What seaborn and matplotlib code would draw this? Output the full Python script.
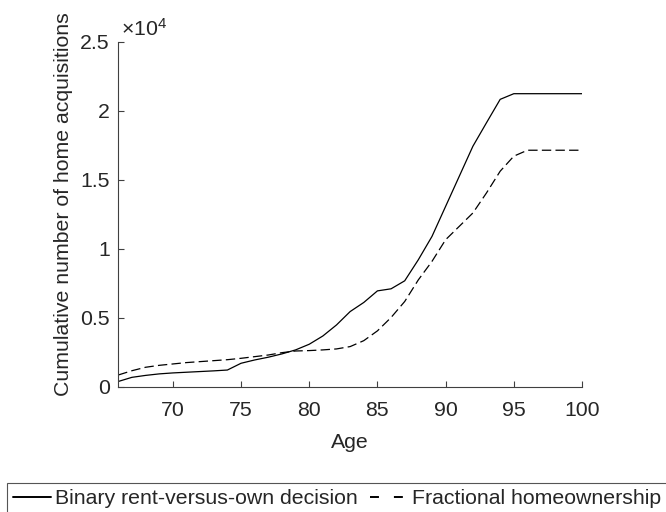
import matplotlib
matplotlib.use("Agg")
import matplotlib.pyplot as plt
from matplotlib.lines import Line2D
from matplotlib.ticker import FuncFormatter
import pandas as pd
import seaborn as sns

# cumulative home acquisitions by age
ages = list(range(66, 101))
binary_owners = [
    380, 680, 820, 930, 1000, 1050, 1100, 1150, 1210, 1700,
    1940, 2140, 2380, 2670, 3080, 3680, 4480, 5450, 6110, 6950,
    7100, 7680, 9210, 10900, 13080, 15260, 17440, 19150, 20840, 21250,
    21250, 21250, 21250, 21250, 21250,
]
fractional_owners = [
    850, 1160, 1410, 1550, 1650, 1750, 1820, 1890, 1960, 2060,
    2180, 2300, 2470, 2590, 2620, 2670, 2740, 2910, 3340, 4050,
    5020, 6180, 7750, 9090, 10660, 11630, 12600, 14060, 15630, 16720,
    17150, 17150, 17150, 17150, 17150,
]
series_labels = ["Binary rent-versus-own decision", "Fractional homeownership"]
x_ticks = [70, 75, 80, 85, 90, 95, 100]
y_ticks = [0, 5000, 10000, 15000, 20000, 25000]

sns.set_style("ticks")
plt.rcParams["font.family"] = ["Liberation Sans", "DejaVu Sans"]
plt.rcParams["mathtext.fontset"] = "custom"
plt.rcParams["mathtext.rm"] = "Liberation Sans"
plt.rcParams["mathtext.it"] = "Liberation Sans:italic"

FS = 15.3
AX_COL = "#404040"
TXT_COL = "#262626"

df = pd.DataFrame({"age": ages, "binary": binary_owners, "fractional": fractional_owners})

fig = plt.figure(figsize=(6.66, 5.12), dpi=100)
ax = fig.add_axes([0.1776, 0.2447, 0.6963, 0.6733])

sns.lineplot(data=df, x="age", y="binary", ax=ax, color="black", linewidth=0.9)
sns.lineplot(data=df, x="age", y="fractional", ax=ax, color="black", linewidth=0.9,
             linestyle=(0, (7.5, 3.4)))

ax.set_xlim(66, 100)
ax.set_ylim(0, 25000)
ax.set_xticks(x_ticks)
ax.set_yticks(y_ticks)
ax.yaxis.set_major_formatter(FuncFormatter(lambda v, p: f"{v / 1e4:g}"))

for side in ["top", "right"]:
    ax.spines[side].set_visible(False)
for side in ["left", "bottom"]:
    ax.spines[side].set_color(AX_COL)
    ax.spines[side].set_linewidth(0.8)
ax.tick_params(axis="both", direction="in", length=4.5, width=0.8, color=AX_COL,
               labelsize=FS, labelcolor=TXT_COL)
ax.tick_params(axis="x", pad=10)
ax.tick_params(axis="y", pad=6)

ax.set_xlabel("Age", fontsize=FS, color=TXT_COL)
ax.set_ylabel("Cumulative number of home acquisitions", fontsize=FS, color=TXT_COL)
ax.xaxis.set_label_coords(0.5, -0.135)
ax.yaxis.set_label_coords(-0.098, 0.53)

ax.text(0.006, 1.017, r"$\times10^{4}$", transform=ax.transAxes, fontsize=FS,
        color=TXT_COL, ha="left", va="baseline")

handles = [
    Line2D([], [], color="black", linewidth=1.4),
    Line2D([], [], color="black", linewidth=1.4, linestyle=(0, (4.6, 7.7))),
]
leg = fig.legend(handles, series_labels, loc="upper left",
                 bbox_to_anchor=(7 / 666, 1 - 483 / 512), borderaxespad=0,
                 ncol=2, fontsize=FS, frameon=True, fancybox=False, framealpha=1,
                 edgecolor="#555555", borderpad=0.3, handlelength=1.75,
                 handletextpad=0.2, columnspacing=0.6)
leg.get_frame().set_linewidth(0.8)

fig.savefig("out.png", dpi=100)
